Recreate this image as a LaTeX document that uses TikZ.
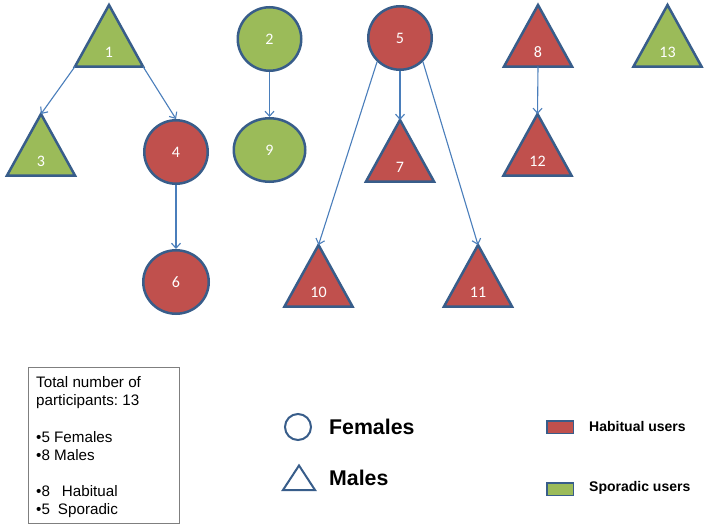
\documentclass[tikz,border=0pt]{standalone}
\usepackage{fontspec}
\setmainfont{Liberation Sans}
\newfontfamily\lblfont{Carlito}
\usetikzlibrary{arrows.meta,calc}
\frenchspacing
\definecolor{habit}{HTML}{C0504D}
\definecolor{spor}{HTML}{9BBB59}
\definecolor{bord}{HTML}{385D8A}
\definecolor{arr}{HTML}{4A7EBB}
\definecolor{boxgray}{HTML}{7F7F7F}
\tikzset{
  shapebord/.style={draw=bord, line width=2.5pt},
  lbl/.style={text=white, font=\lblfont\fontsize{16}{19}\selectfont, inner sep=0pt},
  fem/.style={shapebord, circle, minimum size=63.5pt, inner sep=0pt},
  femo/.style={shapebord, ellipse, inner sep=0pt},
  conn/.style={draw=arr, line width=1.1pt, -{Straight Barb[length=5pt,width=9pt,line width=1.1pt]}},
  legtxt/.style={anchor=base west, inner sep=0pt, font=\frenchspacing\fontsize{15.2}{18}\selectfont},
  legbig/.style={anchor=west, inner sep=0pt, font=\bfseries\fontsize{21.3}{25}\selectfont},
  legsmall/.style={anchor=west, inner sep=0pt, font=\bfseries\fontsize{14}{16}\selectfont},
}
\usetikzlibrary{shapes.geometric}
\newcommand\maletri[5]{%
  \path[shapebord, fill=#4, line join=miter]
    (#2,#3+2) coordinate (#1-apex)
    -- (#2+34,#3+63.5) coordinate (#1-right)
    -- (#2-34,#3+63.5) coordinate (#1-left) -- cycle;
  \coordinate (#1-base) at (#2,#3+63.5);
  \node[lbl] (#1) at (#2,#3+49.5) {#5};
}
\begin{document}
\begin{tikzpicture}[x=1pt,y=-1pt]
\useasboundingbox[fill=white] (0,0) rectangle (708,527);

% males (triangles)
\maletri{t1}{109}{3}{spor}{1}
\maletri{t3}{41}{112}{spor}{3}
\maletri{t7}{400}{118}{habit}{7}
\maletri{t10}{318.5}{243}{habit}{10}
\maletri{t11}{478}{243}{habit}{11}
\maletri{t8}{538}{3}{habit}{8}
\maletri{t12}{537.5}{112}{habit}{12}
\maletri{t13}{667.5}{3}{spor}{13}

% females (circles)
\node[fem, fill=spor] (n2) at (269.5,39) {};
\node[lbl] at (n2) {2};
\node[femo, fill=spor, minimum width=71.5pt, minimum height=63.5pt] (n9) at (269.5,150) {};
\node[lbl] at (n9) {9};
\node[fem, fill=habit] (n4) at (176,152) {};
\node[lbl] at (n4) {4};
\node[femo, fill=habit, minimum width=65.5pt, minimum height=63.5pt] (n6) at (176,282) {};
\node[lbl] at (n6) {6};
\node[fem, fill=habit] (n5) at (400,38) {};
\node[lbl] at (n5) {5};

% connectors
\draw[conn] (t1-left) -- (t3-apex);
\draw[conn] (t1-right) -- (n4.north);
\draw[conn] (n2.south) -- (n9.north);
\draw[conn] (n4.south) -- (n6.north);
\draw[conn] (n5.south) -- (t7-apex);
\draw[conn] (n5.226) -- (t10-apex);
\draw[conn] (n5.314) -- (t11-apex);
\draw[conn] (t8-base) -- (t12-apex);

% summary box
\node[draw=boxgray, line width=1pt, minimum width=151pt, minimum height=156pt, inner sep=0pt] (box) at (103.5,445) {};
\node[legtxt] (s1) at (36,387) {Total number of};
\node[legtxt] (s2) at (36,405.5) {participants: 13};
\node[legtxt] (s3) at (36,442) {•5 Females};
\node[legtxt] (s4) at (36,460) {•8 Males};
\node[legtxt] (s5) at (36,496.5) {•8\hspace{12pt}Habitual};
\node[legtxt] (s6) at (36,514) {•5\hspace{8pt}Sporadic};

% shape legend
\node[draw=bord, line width=2pt, circle, minimum size=26pt, inner sep=0pt] (lc) at (298,427) {};
\node[legbig] (lf) at (329,427) {Females};
\path[draw=bord, line width=2pt, line join=miter] (299,465.5) coordinate (lt-apex) -- (315,490) -- (283,490) -- cycle;
\node[legbig] (lm) at (329,478) {Males};

% colour legend
\node[draw=bord, line width=1.5pt, fill=habit, minimum width=26.5pt, minimum height=12.5pt, inner sep=0pt] (rh) at (560,427) {};
\node[legsmall] (lh) at (589,426) {Habitual users};
\node[draw=bord, line width=1.5pt, fill=spor, minimum width=26.5pt, minimum height=12.5pt, inner sep=0pt] (rs) at (560,489) {};
\node[legsmall] (ls) at (589,488) {Sporadic users};
\end{tikzpicture}
\end{document}
